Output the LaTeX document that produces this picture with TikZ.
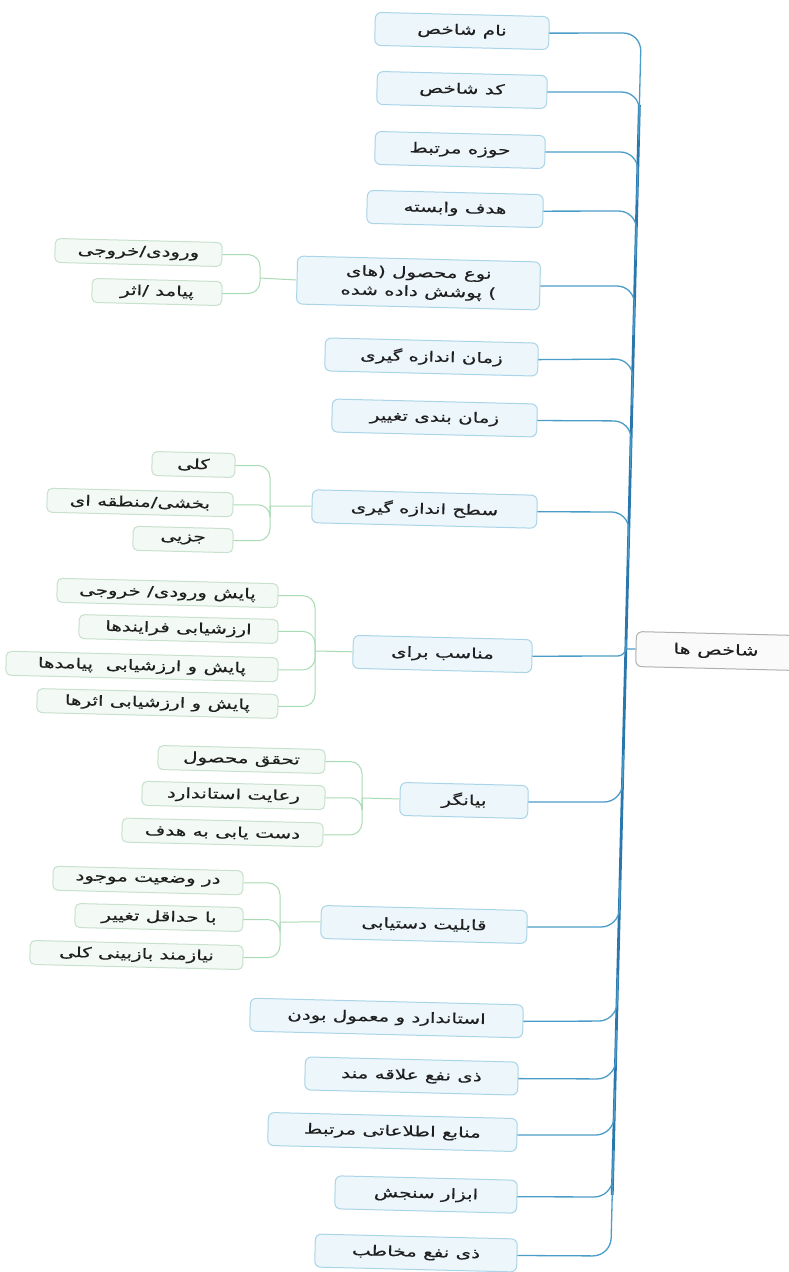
\documentclass[tikz,border=0pt]{standalone}
\usepackage{fontspec}
\TeXXeTstate=1
\newfontfamily\fa[Script=Arabic,FakeStretch=1.42,FakeBold=0.3]{DejaVu Sans}
\usetikzlibrary{calc}
\newcommand\rl[1]{\fa\beginR #1\endR}
% point on the trunk at a given height
\newcommand\tk[1]{($(ttop)!{(#1-40)/1205}!(tbot)$)}

\definecolor{ink}{HTML}{1F1F1F}
\definecolor{mainfill}{HTML}{ECF6FB}
\definecolor{mainedge}{HTML}{AAD4E7}
\definecolor{kidfill}{HTML}{F3F9F4}
\definecolor{kidedge}{HTML}{C8E0CE}
\definecolor{rootfill}{HTML}{FAFAFA}
\definecolor{rootedge}{HTML}{B0B0B0}
\definecolor{branchcol}{HTML}{4A9DC9}
\definecolor{trunkcol}{HTML}{2A77AE}
\definecolor{kidcol}{HTML}{A8DBB4}

\tikzset{
  mainbox/.style={draw=mainedge, fill=mainfill, line width=1pt, rounded corners=6pt,
    rotate=-1.4, inner sep=0pt, minimum height=33pt, text=ink,
    font=\fontsize{14}{19}\selectfont, align=center},
  kidbox/.style={draw=kidedge, fill=kidfill, line width=1pt, rounded corners=5pt,
    rotate=-1.4, inner sep=0pt, minimum height=24pt, text=ink,
    font=\fontsize{14}{16}\selectfont},
  rootbox/.style={draw=rootedge, fill=rootfill, line width=1pt, rounded corners=6pt,
    rotate=-1.4, inner sep=0pt, minimum height=35pt, text=ink,
    font=\fontsize{14.5}{16}\selectfont},
  branch/.style={draw=branchcol, line width=1.3pt, rounded corners=18pt},
  trunk/.style={draw=trunkcol, line width=2.8pt},
  kidline/.style={draw=kidcol, line width=1pt, rounded corners=12pt},
}

\begin{document}
\begin{tikzpicture}[x=1pt,y=-1pt]
\useasboundingbox (0,0) rectangle (788,1272);
\fill[white] (0,0) rectangle (788,1272);

\coordinate (ttop) at (641,40);
\coordinate (tbot) at (611,1245);

% root
\node[rootbox, minimum width=160pt] (root) at (716,651) {\rl{شاخص ها}};

% first level
\node[mainbox, minimum width=174pt] (m1) at (462,31) {\rl{نام شاخص}};
\node[mainbox, minimum width=170pt] (m2) at (462,90) {\rl{کد شاخص}};
\node[mainbox, minimum width=170pt] (m3) at (460,150) {\rl{حوزه مرتبط}};
\node[mainbox, minimum width=176pt] (m4) at (455,209) {\rl{هدف وابسته}};
\node[mainbox, minimum width=243pt, minimum height=48pt] (m5) at (418.5,283)
  {\rl{نوع محصول (های}\\\rl{) پوشش داده شده}};
\node[mainbox, minimum width=213pt] (m6) at (431.5,357) {\rl{زمان اندازه گیری}};
\node[mainbox, minimum width=205pt] (m7) at (434.5,418) {\rl{زمان بندی تغییر}};
\node[mainbox, minimum width=225pt] (m8) at (424.5,509) {\rl{سطح اندازه گیری}};
\node[mainbox, minimum width=179pt] (m9) at (442.5,654) {\rl{مناسب برای}};
\node[mainbox, minimum width=128pt] (m10) at (464,800.5) {\rl{بیانگر}};
\node[mainbox, minimum width=206pt] (m11) at (424,924.5) {\rl{قابلیت دستیابی}};
\node[mainbox, minimum width=273pt] (m12) at (386.5,1018) {\rl{استاندارد و معمول بودن}};
\node[mainbox, minimum width=213pt] (m13) at (411.5,1076) {\rl{ذی نفع علاقه مند}};
\node[mainbox, minimum width=249pt] (m14) at (392.5,1132) {\rl{منابع اطلاعاتی مرتبط}};
\node[mainbox, minimum width=182pt] (m15) at (426,1194.5) {\rl{ابزار سنجش}};
\node[mainbox, minimum width=202pt] (m16) at (416,1253) {\rl{ذی نفع مخاطب}};

% second level
\node[kidbox, minimum width=167pt] (c5a) at (138.5,252.5) {\rl{ورودی/خروجی}};
\node[kidbox, minimum width=130pt] (c5b) at (157,292) {\rl{پیامد /اثر}};

\node[kidbox, minimum width=83pt] (c8a) at (193.5,464.5) {\rl{کلی}};
\node[kidbox, minimum width=186pt] (c8b) at (140,502.5) {\rl{بخشی/منطقه ای}};
\node[kidbox, minimum width=100pt] (c8c) at (183,539.5) {\rl{جزیی}};

\node[kidbox, minimum width=221pt] (c9a) at (167.5,593) {\rl{پایش ورودی/ خروجی}};
\node[kidbox, minimum width=199pt] (c9b) at (178.5,629) {\rl{ارزشیابی فرایندها}};
\node[kidbox, minimum width=272pt] (c9c) at (142,666.5) {\rl{پایش و ارزشیابی\ \ پیامدها}};
\node[kidbox, minimum width=241pt] (c9d) at (157.5,703.5) {\rl{پایش و ارزشیابی اثرها}};

\node[kidbox, minimum width=167pt] (c10a) at (241.5,759.5) {\rl{تحقق محصول}};
\node[kidbox, minimum width=183pt] (c10b) at (233.5,795.5) {\rl{رعایت استاندارد}};
\node[kidbox, minimum width=201pt] (c10c) at (222.5,832.5) {\rl{دست یابی به هدف}};

\node[kidbox, minimum width=190pt] (c11a) at (148,880.5) {\rl{در وضعیت موجود}};
\node[kidbox, minimum width=168pt] (c11b) at (159,917.5) {\rl{با حداقل تغییر}};
\node[kidbox, minimum width=213pt] (c11c) at (136.5,955) {\rl{نیازمند بازبینی کلی}};

% trunk and root link
\draw[trunk] \tk{105} -- \tk{1195};
\draw[branchcol, line width=1.3pt] (root.west) -- \tk{649};

% first-level links: each bends onto the trunk
\draw[branch] (m1.east) -- \tk{33} -- \tk{115};
\draw[branch] (m2.east) -- \tk{92} -- \tk{140};
\draw[branch] (m3.east) -- \tk{152} -- \tk{200};
\draw[branch] (m4.east) -- \tk{211} -- \tk{260};
\draw[branch] (m5.east) -- \tk{286} -- \tk{335};
\draw[branch] (m6.east) -- \tk{359} -- \tk{405};
\draw[branch] (m7.east) -- \tk{421} -- \tk{470};
\draw[branch] (m8.east) -- \tk{512} -- \tk{560};
\draw[branch, rounded corners=8pt] (m9.east) -- \tk{656} -- \tk{640};
\draw[branch] (m10.east) -- \tk{802} -- \tk{755};
\draw[branch] (m11.east) -- \tk{927} -- \tk{880};
\draw[branch] (m12.east) -- \tk{1021} -- \tk{975};
\draw[branch] (m13.east) -- \tk{1079} -- \tk{1030};
\draw[branch] (m14.east) -- \tk{1135} -- \tk{1090};
\draw[branch] (m15.east) -- \tk{1197} -- \tk{1150};
\draw[branch] (m16.east) -- \tk{1256} -- \tk{1185};

% second-level links
\coordinate (j5) at (260,278);
\coordinate (j8) at (270,506);
\coordinate (j9) at (315,651);
\coordinate (j10) at (362,798);
\coordinate (j11) at (280,922);

\draw[kidline, rounded corners=0pt] (m5.west) -- (j5);
\draw[kidline] (c5a.east) -- (c5a.east -| j5) -- (j5);
\draw[kidline] (c5b.east) -- (c5b.east -| j5) -- (j5);

\draw[kidline, rounded corners=0pt] (m8.west) -- (j8);
\draw[kidline] (c8a.east) -- (c8a.east -| j8) -- (j8);
\draw[kidline] (c8b.east) -- (c8b.east -| j8) -- (j8);
\draw[kidline] (c8c.east) -- (c8c.east -| j8) -- (j8);

\draw[kidline, rounded corners=0pt] (m9.west) -- (j9);
\draw[kidline] (c9a.east) -- (c9a.east -| j9) -- (j9);
\draw[kidline] (c9b.east) -- (c9b.east -| j9) -- (j9);
\draw[kidline] (c9c.east) -- (c9c.east -| j9) -- (j9);
\draw[kidline] (c9d.east) -- (c9d.east -| j9) -- (j9);

\draw[kidline, rounded corners=0pt] (m10.west) -- (j10);
\draw[kidline] (c10a.east) -- (c10a.east -| j10) -- (j10);
\draw[kidline] (c10b.east) -- (c10b.east -| j10) -- (j10);
\draw[kidline] (c10c.east) -- (c10c.east -| j10) -- (j10);

\draw[kidline, rounded corners=0pt] (m11.west) -- (j11);
\draw[kidline] (c11a.east) -- (c11a.east -| j11) -- (j11);
\draw[kidline] (c11b.east) -- (c11b.east -| j11) -- (j11);
\draw[kidline] (c11c.east) -- (c11c.east -| j11) -- (j11);
\end{tikzpicture}
\end{document}
